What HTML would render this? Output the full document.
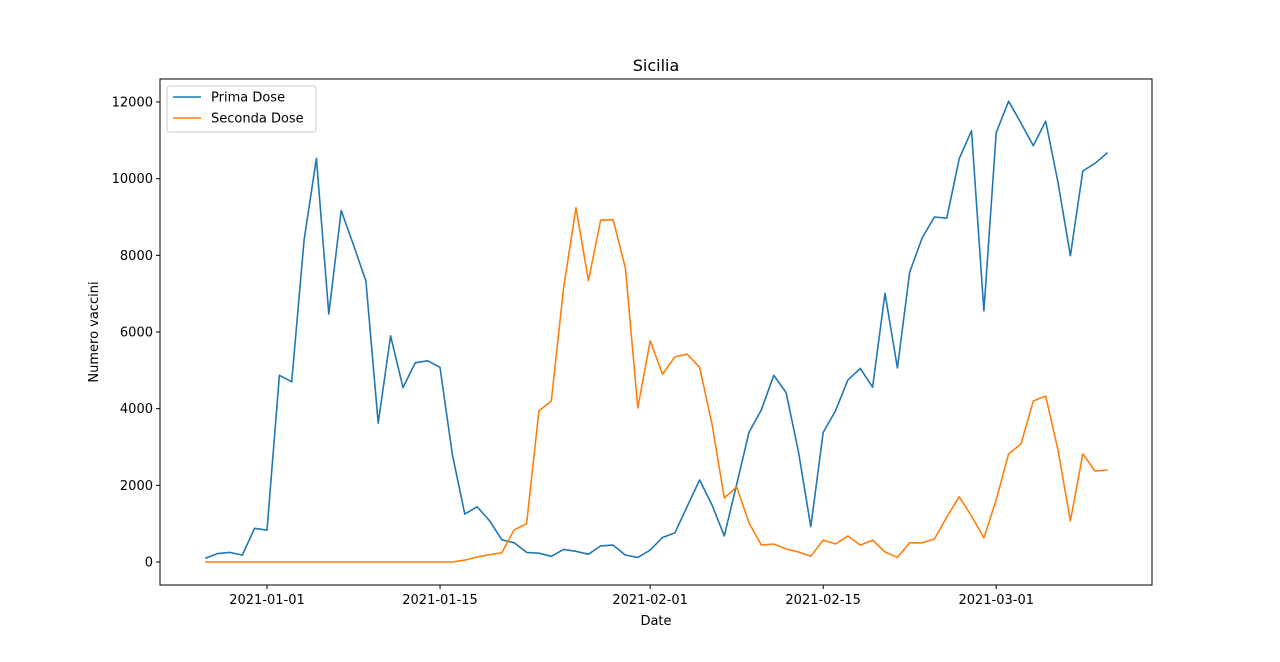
<!DOCTYPE html>
<html><head><meta charset="utf-8">
<style>
body{margin:0;background:#fff;font-family:"Liberation Sans","DejaVu Sans",sans-serif;}
svg text{font-family:"DejaVu Sans","Liberation Sans",sans-serif;}
</style></head>
<body>
<svg id="chart" width="1280" height="657" xmlns="http://www.w3.org/2000/svg"></svg>
<script>
const startDate = "2020-12-27";
const primaDose = [100,220,250,180,880,830,4870,4700,8400,10530,6470,9170,8270,7330,3620,5900,4550,5200,5250,5080,2800,1250,1440,1080,580,500,250,230,150,330,280,200,420,440,180,120,310,640,760,1450,2140,1490,680,2030,3380,3970,4870,4420,2870,920,3380,3950,4750,5050,4560,7010,5060,7560,8450,9000,8970,10520,11250,6550,11200,12020,11450,10860,11500,9900,7990,10200,10400,10680];
const secondaDose = [0,0,0,0,0,0,0,0,0,0,0,0,0,0,0,0,0,0,0,0,0,50,130,190,240,840,1000,3940,4200,7150,9240,7340,8920,8930,7670,4020,5770,4900,5350,5420,5080,3600,1670,1960,1020,440,470,340,260,150,570,470,680,440,570,260,120,500,500,600,1170,1700,1200,630,1620,2820,3080,4200,4330,2920,1070,2820,2370,2400];
const yTicks = [0,2000,4000,6000,8000,10000,12000];
const xTickLabels = ["2021-01-01","2021-01-15","2021-02-01","2021-02-15","2021-03-01"];

const NS="http://www.w3.org/2000/svg";
const svg=document.getElementById('chart');
const L=160,R=1152,T=79,B=585;
const DAY=86400000;
const t0=Date.UTC(2021,0,1);
function xScale(dayOffset){return 267+dayOffset*12.36;}
function dayOf(s){const p=s.split('-');return (Date.UTC(+p[0],+p[1]-1,+p[2])-t0)/DAY;}
function yScale(v){return 562-v*(460/12000);}
function el(tag,attrs,parent){const e=document.createElementNS(NS,tag);for(const k in attrs)e.setAttribute(k,attrs[k]);(parent||svg).appendChild(e);return e;}
const startOff=dayOf(startDate);

// axes box
const frame=el('rect',{x:L,y:T,width:R-L,height:B-T,fill:'none',stroke:'#000','stroke-width':1});



yTicks.forEach(v=>{
  const y=yScale(v);
  const tk=el('line',{x1:L-4,x2:L,y1:y,y2:y,stroke:'#000'});
  
  
  const t=el('text',{x:L-7,y:y+4.5,'text-anchor':'end','font-size':13});
  t.textContent=v;
  
  
});
xTickLabels.forEach(s=>{
  const x=xScale(dayOf(s));
  const tk=el('line',{x1:x,x2:x,y1:B,y2:B+4,stroke:'#000'});
  
  
  const t=el('text',{x:x,y:B+19,'text-anchor':'middle','font-size':13});
  t.textContent=s;
  
  
});

function series(arr,color,name){
  const pts=arr.map((v,i)=>xScale(startOff+i).toFixed(1)+','+yScale(v).toFixed(1)).join(' ');
  const p=el('polyline',{points:pts,fill:'none',stroke:color,'stroke-width':1.6,'stroke-linejoin':'round'});
  
  
}
series(primaDose,'#1f77b4','prima-dose-line');
series(secondaDose,'#ff7f0e','seconda-dose-line');

const title=el('text',{x:(L+R)/2,y:71,'text-anchor':'middle','font-size':16});
title.textContent='Sicilia';


const xl=el('text',{x:(L+R)/2,y:625,'text-anchor':'middle','font-size':13});
xl.textContent='Date';


const yl=el('text',{x:0,y:0,'text-anchor':'middle','font-size':13,transform:'translate(98,332) rotate(-90)'});
yl.textContent='Numero vaccini';



// legend
const lg=el('g',{});


el('rect',{x:167,y:86,width:149,height:46,rx:3,fill:'#fff',stroke:'#ccc'},lg);
[['Prima Dose','#1f77b4',97],['Seconda Dose','#ff7f0e',118]].forEach(([n,c,y])=>{
  const g=el('g',{},lg);
  
  
  el('line',{x1:173,x2:201,y1:y,y2:y,stroke:c,'stroke-width':1.6},g);
  const t=el('text',{x:211,y:y+4.5,'font-size':13},g);
  t.textContent=n;
});
</script>
</body></html>
